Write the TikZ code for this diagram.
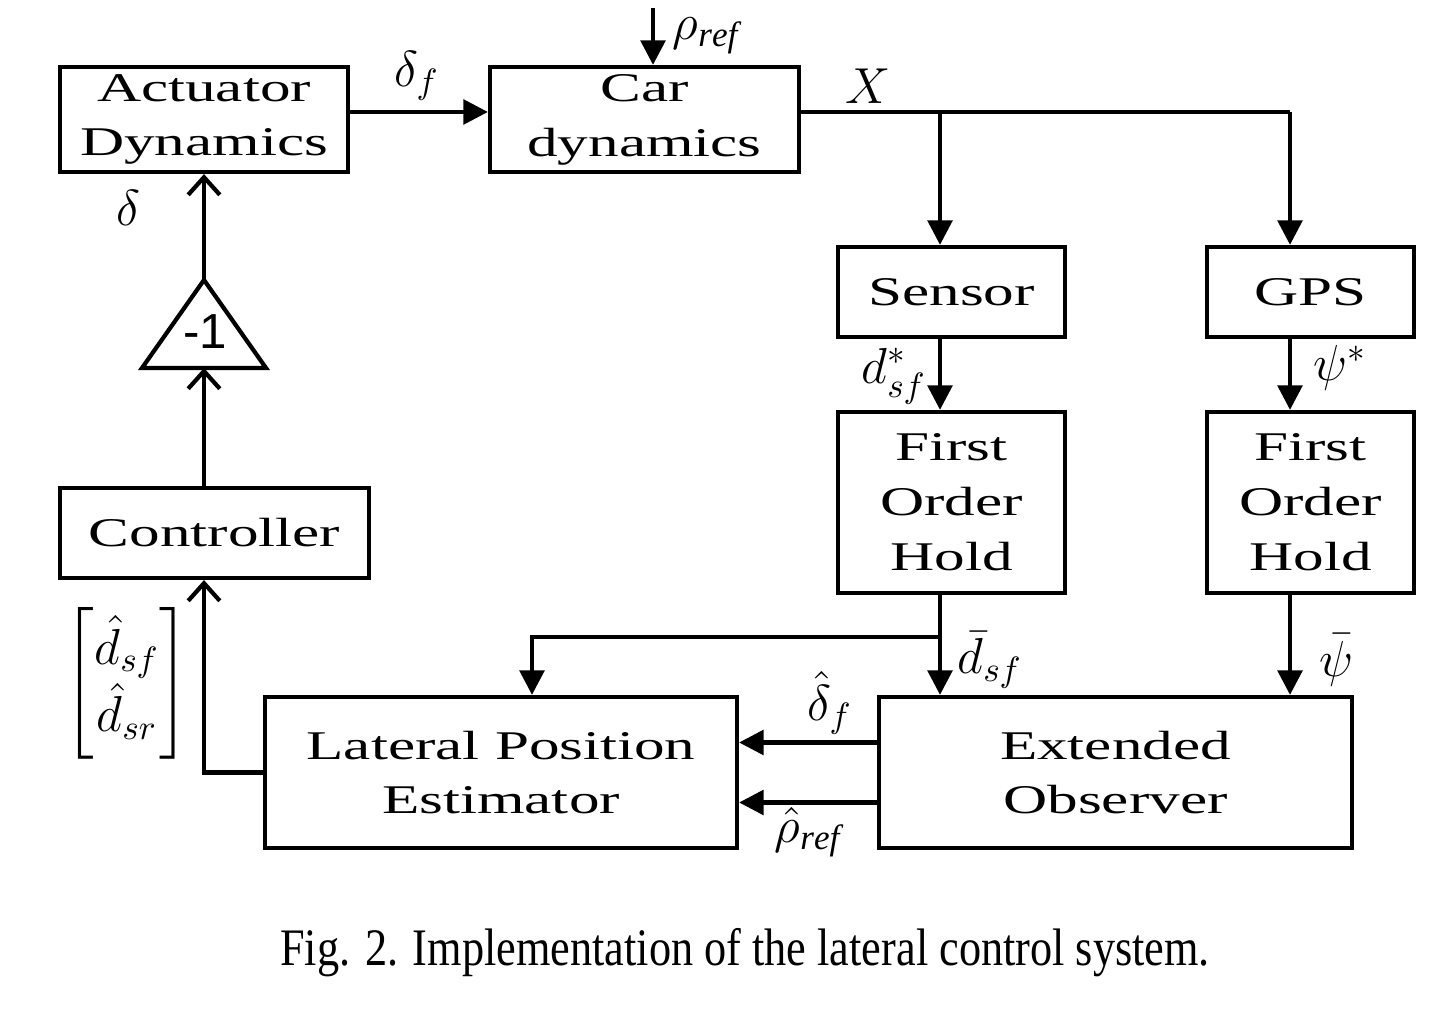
\documentclass[tikz,border=0pt]{standalone}
\usepackage{amsmath}
\usepackage{amssymb}
\usepackage{fontspec}
\setmainfont{Liberation Serif}
\setsansfont{Liberation Sans}
\newfontfamily\blkfont[FakeStretch=1.5]{Liberation Serif}
\newfontfamily\capfont[FakeStretch=0.84]{Liberation Serif}
\usetikzlibrary{arrows.meta}

\tikzset{
	blk/.style={draw, line width=1.2pt, align=center, inner sep=0pt,
		font=\blkfont\fontsize{11.6}{15.6}\selectfont},
	wire/.style={line width=1.2pt},
	fed/.style={wire, -{Triangle[length=7pt,width=7pt]}},
	opn/.style={wire, -{Straight Barb[length=5pt,width=9pt,line width=1.2pt]}},
	lbl/.style={font=\Large}
}

\begin{document}
\begin{tikzpicture}

	\useasboundingbox (0,0) rectangle (14.35,10.16);

	% blocks
	\node[blk, minimum width=2.88cm, minimum height=1.05cm] (act) at (2.04,8.965) {Actuator\\Dynamics};
	\node[blk, minimum width=3.09cm, minimum height=1.05cm] (car) at (6.445,8.965) {Car\\dynamics};
	\node[blk, minimum width=2.27cm, minimum height=0.90cm] (sen) at (9.515,7.24) {Sensor};
	\node[blk, minimum width=2.07cm, minimum height=0.90cm] (gps) at (13.105,7.24) {GPS};
	\node[blk, minimum width=2.27cm, minimum height=1.81cm] (foha) at (9.515,5.135) {First\\Order\\Hold};
	\node[blk, minimum width=2.07cm, minimum height=1.81cm] (fohb) at (13.105,5.135) {First\\Order\\Hold};
	\node[blk, minimum width=3.09cm, minimum height=0.90cm] (ctrl) at (2.145,4.83) {Controller};
	\node[blk, minimum width=4.72cm, minimum height=1.51cm] (lpe) at (5.01,2.435) {Lateral Position\\Estimator};
	\node[blk, minimum width=4.73cm, minimum height=1.51cm] (eo) at (11.155,2.435) {Extended\\Observer};

	% gain -1
	\coordinate (gtop) at (2.04,7.36);
	\coordinate (gbot) at (2.04,6.48);
	\draw[wire, line join=miter] (gtop) -- (1.42,6.48) -- (2.66,6.48) -- cycle;
	\node[font=\sffamily\fontsize{14}{14}\selectfont] (gain) at (2.05,6.84) {-1};

	% branch points
	\coordinate (rin) at (6.53,10.08);
	\coordinate (xs) at (9.40,9.04);
	\coordinate (xg) at (12.90,9.04);
	\coordinate (bd) at (9.40,3.79);
	\coordinate (ld) at (5.32,3.79);
	\coordinate (cl) at (2.04,2.435);

	% forward path
	\draw[fed] (act.east |- xs) -- (car.west |- xs);
	\draw[fed] (rin) -- (rin |- car.north);
	\draw[wire] (car.east |- xs) -- (xg);
	\draw[fed] (xs) -- (xs |- sen.north);
	\draw[fed] (xg) -- (xg |- gps.north);
	\draw[fed] (xs |- sen.south) -- (xs |- foha.north);
	\draw[fed] (xg |- gps.south) -- (xg |- fohb.north);
	\draw[fed] (xs |- foha.south) -- (xs |- eo.north);
	\draw[fed] (xg |- fohb.south) -- (xg |- eo.north);
	\draw[fed] (bd) -- (ld) -- (ld |- lpe.north);
	\draw[fed] ([yshift=0.3cm]eo.west) -- ([yshift=0.3cm]eo.west -| lpe.east);
	\draw[fed] ([yshift=-0.3cm]eo.west) -- ([yshift=-0.3cm]eo.west -| lpe.east);

	% feedback path
	\draw[opn] (lpe.west) -- (cl) -- (cl |- ctrl.south);
	\draw[opn] (cl |- ctrl.north) -- (gbot);
	\draw[opn] (gtop) -- (gtop |- act.south);

	% signal labels
	\node[lbl] (ldf) at (4.17,9.40) {$\delta_f$};
	\node[lbl] (lrho) at (7.06,9.80) {$\rho_{\mathit{ref}}$};
	\node[lbl] (lx) at (8.68,9.30) {$X$};
	\node[lbl] (ldel) at (1.28,8.08) {$\delta$};
	\node[lbl] (ldst) at (8.94,6.40) {$d_{sf}^{*}$};
	\node[lbl] (lpst) at (13.40,6.48) {$\psi^{*}$};
	\node[lbl] (ldbar) at (9.90,3.56) {$\bar{d}_{sf}$};
	\node[lbl] (lpbar) at (13.36,3.56) {$\bar{\psi}$};
	\node[lbl] (lhdf) at (8.30,3.13) {$\hat{\delta}_f$};
	\node[lbl] (lhrho) at (8.08,1.84) {$\hat{\rho}_{\mathit{ref}}$};
	\node[lbl] (lvec) at (1.27,3.33) {$\begin{bmatrix}\hat{d}_{sf}\\ \hat{d}_{sr}\end{bmatrix}$};

	% caption
	\node[font=\capfont\fontsize{15}{18}\selectfont] (cap) at (7.45,0.63) {Fig. 2. Implementation of the lateral control system.};

\end{tikzpicture}
\end{document}
